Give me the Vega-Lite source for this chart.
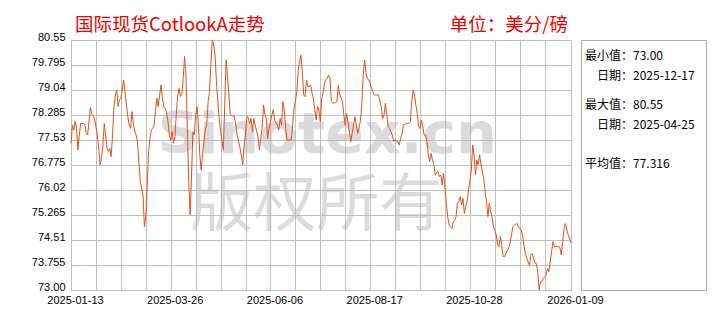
{
  "$schema": "https://vega.github.io/schema/vega-lite/v6.json",
  "background": "white",
  "padding": {"left": 30, "top": 15, "right": 5, "bottom": 5},
  "bounds": "flush",
  "spacing": 10,
  "config": {
    "view": {"stroke": "#c0c0c0"},
    "axis": {"labelFont": "Liberation Sans", "labelFontSize": 11, "labelColor": "#000000", "gridColor": "#c0c0c0", "domainColor": "#c0c0c0", "ticks": false, "title": null, "labelOverlap": false, "labelFlush": false}
  },
  "hconcat": [
    {
      "width": 500,
      "height": 250,
      "title": {"text": "国际现货CotlookA走势\u3000\u3000\u3000\u3000\u3000\u3000\u3000\u3000\u3000\u3000单位：美分/磅", "anchor": "start", "frame": "group", "color": "#ee0000", "font": "Noto Sans CJK SC", "fontSize": 18.5, "fontWeight": "normal", "dx": 4, "offset": 0, "dy": 3},
      "resolve": {"scale": {"x": "independent", "y": "independent"}},
      "layer": [
        {
          "data": {"values": [{"mark": "Sinotex.cn"}]},
          "mark": {"type": "text", "font": "DejaVu Sans", "fontWeight": "bold", "fontSize": 57, "color": "#b8b8b8", "opacity": 0.5, "align": "center", "baseline": "alphabetic"},
          "encoding": {
            "x": {"datum": {"year": 2025, "month": 7, "date": 17, "utc": true}, "type": "temporal", "axis": null, "scale": {"type": "utc", "domain": [{"year": 2025, "month": 1, "date": 13, "utc": true}, {"year": 2026, "month": 1, "date": 9, "utc": true}]}},
            "y": {"datum": 77.14, "type": "quantitative", "axis": null, "scale": {"domain": [73, 80.55], "nice": false, "zero": false}},
            "text": {"field": "mark", "type": "nominal"}
          }
        },
        {
          "data": {"values": [{"mark": "版权所有"}]},
          "mark": {"type": "text", "font": "Noto Sans CJK SC", "fontWeight": "normal", "fontSize": 63, "color": "#b8b8b8", "opacity": 0.5, "align": "center", "baseline": "alphabetic"},
          "encoding": {
            "x": {"datum": {"year": 2025, "month": 7, "date": 9, "utc": true}, "type": "temporal", "axis": null, "scale": {"type": "utc", "domain": [{"year": 2025, "month": 1, "date": 13, "utc": true}, {"year": 2026, "month": 1, "date": 9, "utc": true}]}},
            "y": {"datum": 74.95, "type": "quantitative", "axis": null, "scale": {"domain": [73, 80.55], "nice": false, "zero": false}},
            "text": {"field": "mark", "type": "nominal"}
          }
        },
        {
          "data": {"values": [
{"date":"2025-01-13","value":77.43},{"date":"2025-01-14","value":77.98},{"date":"2025-01-15","value":77.83},{"date":"2025-01-16","value":78.10},{"date":"2025-01-17","value":77.88},{"date":"2025-01-18","value":77.23},{"date":"2025-01-19","value":77.68},{"date":"2025-01-20","value":78.03},{"date":"2025-01-21","value":78.03},{"date":"2025-01-22","value":78.03},{"date":"2025-01-23","value":78.00},{"date":"2025-01-24","value":77.73},{"date":"2025-01-25","value":77.68},{"date":"2025-01-26","value":78.10},{"date":"2025-01-27","value":78.51},{"date":"2025-01-28","value":78.33},{"date":"2025-01-29","value":78.25},{"date":"2025-01-30","value":78.18},{"date":"2025-01-31","value":77.93},
{"date":"2025-02-01","value":77.68},{"date":"2025-02-02","value":77.28},{"date":"2025-02-03","value":76.78},{"date":"2025-02-04","value":76.98},{"date":"2025-02-05","value":77.35},{"date":"2025-02-06","value":78.03},{"date":"2025-02-07","value":77.68},{"date":"2025-02-08","value":77.28},{"date":"2025-02-09","value":77.18},{"date":"2025-02-10","value":77.28},{"date":"2025-02-11","value":77.03},{"date":"2025-02-12","value":77.70},{"date":"2025-02-13","value":78.50},{"date":"2025-02-14","value":78.89},{"date":"2025-02-15","value":79.04},{"date":"2025-02-16","value":78.54},{"date":"2025-02-17","value":78.74},{"date":"2025-02-18","value":78.79},{"date":"2025-02-19","value":79.04},{"date":"2025-02-20","value":79.34},{"date":"2025-02-21","value":78.99},{"date":"2025-02-22","value":78.59},{"date":"2025-02-23","value":78.24},{"date":"2025-02-24","value":77.98},{"date":"2025-02-25","value":77.88},{"date":"2025-02-26","value":78.39},{"date":"2025-02-27","value":78.03},{"date":"2025-02-28","value":77.80},
{"date":"2025-03-01","value":77.68},{"date":"2025-03-02","value":77.48},{"date":"2025-03-03","value":76.88},{"date":"2025-03-04","value":76.27},{"date":"2025-03-05","value":76.07},{"date":"2025-03-06","value":75.87},{"date":"2025-03-07","value":74.91},{"date":"2025-03-08","value":75.22},{"date":"2025-03-09","value":76.10},{"date":"2025-03-10","value":77.18},{"date":"2025-03-11","value":77.58},{"date":"2025-03-12","value":77.83},{"date":"2025-03-13","value":77.88},{"date":"2025-03-14","value":77.98},{"date":"2025-03-15","value":78.39},{"date":"2025-03-16","value":78.79},{"date":"2025-03-17","value":78.54},{"date":"2025-03-18","value":78.89},{"date":"2025-03-19","value":79.19},{"date":"2025-03-20","value":78.80},{"date":"2025-03-21","value":78.54},{"date":"2025-03-22","value":78.49},{"date":"2025-03-23","value":78.35},{"date":"2025-03-24","value":78.10},{"date":"2025-03-25","value":77.68},{"date":"2025-03-26","value":77.53},{"date":"2025-03-27","value":77.78},{"date":"2025-03-28","value":77.43},{"date":"2025-03-29","value":77.63},{"date":"2025-03-30","value":78.29},{"date":"2025-03-31","value":78.84},
{"date":"2025-04-01","value":79.09},{"date":"2025-04-02","value":78.84},{"date":"2025-04-03","value":78.90},{"date":"2025-04-04","value":79.39},{"date":"2025-04-05","value":80.05},{"date":"2025-04-06","value":79.50},{"date":"2025-04-07","value":77.88},{"date":"2025-04-08","value":76.27},{"date":"2025-04-09","value":75.27},{"date":"2025-04-10","value":76.40},{"date":"2025-04-11","value":77.78},{"date":"2025-04-12","value":77.68},{"date":"2025-04-13","value":78.29},{"date":"2025-04-14","value":78.54},{"date":"2025-04-15","value":78.00},{"date":"2025-04-16","value":77.08},{"date":"2025-04-17","value":76.62},{"date":"2025-04-18","value":77.10},{"date":"2025-04-19","value":77.50},{"date":"2025-04-20","value":77.85},{"date":"2025-04-21","value":77.98},{"date":"2025-04-22","value":78.69},{"date":"2025-04-23","value":78.99},{"date":"2025-04-24","value":79.79},{"date":"2025-04-25","value":80.55},{"date":"2025-04-26","value":80.40},{"date":"2025-04-27","value":80.10},{"date":"2025-04-28","value":79.29},{"date":"2025-04-29","value":78.69},{"date":"2025-04-30","value":78.18},
{"date":"2025-05-01","value":77.80},{"date":"2025-05-02","value":77.48},{"date":"2025-05-03","value":77.23},{"date":"2025-05-04","value":78.60},{"date":"2025-05-05","value":79.95},{"date":"2025-05-06","value":79.45},{"date":"2025-05-07","value":78.89},{"date":"2025-05-08","value":78.29},{"date":"2025-05-09","value":78.27},{"date":"2025-05-10","value":78.25},{"date":"2025-05-11","value":78.24},{"date":"2025-05-12","value":77.98},{"date":"2025-05-13","value":77.68},{"date":"2025-05-14","value":77.48},{"date":"2025-05-15","value":77.30},{"date":"2025-05-16","value":77.05},{"date":"2025-05-17","value":76.78},{"date":"2025-05-18","value":77.38},{"date":"2025-05-19","value":77.68},{"date":"2025-05-20","value":78.24},{"date":"2025-05-21","value":78.20},{"date":"2025-05-22","value":78.03},{"date":"2025-05-23","value":78.18},{"date":"2025-05-24","value":77.78},{"date":"2025-05-25","value":78.18},{"date":"2025-05-26","value":77.98},{"date":"2025-05-27","value":77.80},{"date":"2025-05-28","value":77.63},{"date":"2025-05-29","value":77.23},{"date":"2025-05-30","value":77.58},{"date":"2025-05-31","value":77.88},
{"date":"2025-06-01","value":78.59},{"date":"2025-06-02","value":78.30},{"date":"2025-06-03","value":78.18},{"date":"2025-06-04","value":77.58},{"date":"2025-06-05","value":77.88},{"date":"2025-06-06","value":78.05},{"date":"2025-06-07","value":78.29},{"date":"2025-06-08","value":78.44},{"date":"2025-06-09","value":78.13},{"date":"2025-06-10","value":78.05},{"date":"2025-06-11","value":77.98},{"date":"2025-06-12","value":77.83},{"date":"2025-06-13","value":78.18},{"date":"2025-06-14","value":77.98},{"date":"2025-06-15","value":78.69},{"date":"2025-06-16","value":78.44},{"date":"2025-06-17","value":77.88},{"date":"2025-06-18","value":77.53},{"date":"2025-06-19","value":77.53},{"date":"2025-06-20","value":77.53},{"date":"2025-06-21","value":77.53},{"date":"2025-06-22","value":77.98},{"date":"2025-06-23","value":78.49},{"date":"2025-06-24","value":78.69},{"date":"2025-06-25","value":78.99},{"date":"2025-06-26","value":79.59},{"date":"2025-06-27","value":79.89},{"date":"2025-06-28","value":80.10},{"date":"2025-06-29","value":79.59},{"date":"2025-06-30","value":78.89},
{"date":"2025-07-01","value":78.84},{"date":"2025-07-02","value":79.34},{"date":"2025-07-03","value":79.14},{"date":"2025-07-04","value":79.15},{"date":"2025-07-05","value":79.19},{"date":"2025-07-06","value":78.95},{"date":"2025-07-07","value":78.79},{"date":"2025-07-08","value":78.45},{"date":"2025-07-09","value":78.13},{"date":"2025-07-10","value":78.54},{"date":"2025-07-11","value":78.44},{"date":"2025-07-12","value":78.08},{"date":"2025-07-13","value":78.79},{"date":"2025-07-14","value":78.95},{"date":"2025-07-15","value":79.24},{"date":"2025-07-16","value":79.34},{"date":"2025-07-17","value":79.40},{"date":"2025-07-18","value":79.49},{"date":"2025-07-19","value":79.39},{"date":"2025-07-20","value":78.69},{"date":"2025-07-21","value":78.66},{"date":"2025-07-22","value":78.64},{"date":"2025-07-23","value":78.66},{"date":"2025-07-24","value":78.69},{"date":"2025-07-25","value":79.19},{"date":"2025-07-26","value":78.89},{"date":"2025-07-27","value":78.79},{"date":"2025-07-28","value":78.69},{"date":"2025-07-29","value":78.29},{"date":"2025-07-30","value":77.98},{"date":"2025-07-31","value":78.33},
{"date":"2025-08-01","value":78.08},{"date":"2025-08-02","value":77.78},{"date":"2025-08-03","value":77.48},{"date":"2025-08-04","value":77.73},{"date":"2025-08-05","value":77.98},{"date":"2025-08-06","value":78.23},{"date":"2025-08-07","value":77.98},{"date":"2025-08-08","value":77.73},{"date":"2025-08-09","value":77.88},{"date":"2025-08-10","value":78.13},{"date":"2025-08-11","value":78.64},{"date":"2025-08-12","value":79.49},{"date":"2025-08-13","value":79.95},{"date":"2025-08-14","value":79.54},{"date":"2025-08-15","value":79.39},{"date":"2025-08-16","value":79.34},{"date":"2025-08-17","value":79.24},{"date":"2025-08-18","value":79.10},{"date":"2025-08-19","value":78.99},{"date":"2025-08-20","value":78.89},{"date":"2025-08-21","value":78.89},{"date":"2025-08-22","value":78.89},{"date":"2025-08-23","value":78.89},{"date":"2025-08-24","value":78.70},{"date":"2025-08-25","value":78.54},{"date":"2025-08-26","value":78.18},{"date":"2025-08-27","value":78.29},{"date":"2025-08-28","value":78.64},{"date":"2025-08-29","value":78.29},{"date":"2025-08-30","value":77.93},{"date":"2025-08-31","value":77.88},
{"date":"2025-09-01","value":77.78},{"date":"2025-09-02","value":77.68},{"date":"2025-09-03","value":77.48},{"date":"2025-09-04","value":77.53},{"date":"2025-09-05","value":77.50},{"date":"2025-09-06","value":77.48},{"date":"2025-09-07","value":77.38},{"date":"2025-09-08","value":77.58},{"date":"2025-09-09","value":77.73},{"date":"2025-09-10","value":77.98},{"date":"2025-09-11","value":78.00},{"date":"2025-09-12","value":78.03},{"date":"2025-09-13","value":78.03},{"date":"2025-09-14","value":78.03},{"date":"2025-09-15","value":78.08},{"date":"2025-09-16","value":78.69},{"date":"2025-09-17","value":79.04},{"date":"2025-09-18","value":78.89},{"date":"2025-09-19","value":78.59},{"date":"2025-09-20","value":78.33},{"date":"2025-09-21","value":77.95},{"date":"2025-09-22","value":77.88},{"date":"2025-09-23","value":78.13},{"date":"2025-09-24","value":77.93},{"date":"2025-09-25","value":77.68},{"date":"2025-09-26","value":77.68},{"date":"2025-09-27","value":77.48},{"date":"2025-09-28","value":77.08},{"date":"2025-09-29","value":76.88},{"date":"2025-09-30","value":77.13},
{"date":"2025-10-01","value":76.93},{"date":"2025-10-02","value":76.78},{"date":"2025-10-03","value":76.47},{"date":"2025-10-04","value":76.55},{"date":"2025-10-05","value":76.57},{"date":"2025-10-06","value":76.42},{"date":"2025-10-07","value":76.47},{"date":"2025-10-08","value":76.17},{"date":"2025-10-09","value":76.52},{"date":"2025-10-10","value":76.07},{"date":"2025-10-11","value":75.60},{"date":"2025-10-12","value":75.20},{"date":"2025-10-13","value":74.96},{"date":"2025-10-14","value":74.90},{"date":"2025-10-15","value":74.86},{"date":"2025-10-16","value":75.06},{"date":"2025-10-17","value":75.10},{"date":"2025-10-18","value":75.22},{"date":"2025-10-19","value":75.62},{"date":"2025-10-20","value":75.67},{"date":"2025-10-21","value":75.82},{"date":"2025-10-22","value":75.57},{"date":"2025-10-23","value":75.77},{"date":"2025-10-24","value":75.31},{"date":"2025-10-25","value":75.52},{"date":"2025-10-26","value":75.67},{"date":"2025-10-27","value":76.02},{"date":"2025-10-28","value":76.30},{"date":"2025-10-29","value":76.60},{"date":"2025-10-30","value":77.38},{"date":"2025-10-31","value":77.08},
{"date":"2025-11-01","value":76.47},{"date":"2025-11-02","value":76.93},{"date":"2025-11-03","value":76.78},{"date":"2025-11-04","value":77.08},{"date":"2025-11-05","value":76.78},{"date":"2025-11-06","value":76.57},{"date":"2025-11-07","value":76.37},{"date":"2025-11-08","value":75.97},{"date":"2025-11-09","value":75.67},{"date":"2025-11-10","value":75.22},{"date":"2025-11-11","value":75.62},{"date":"2025-11-12","value":75.37},{"date":"2025-11-13","value":75.22},{"date":"2025-11-14","value":74.91},{"date":"2025-11-15","value":74.80},{"date":"2025-11-16","value":74.66},{"date":"2025-11-17","value":74.36},{"date":"2025-11-18","value":74.31},{"date":"2025-11-19","value":74.61},{"date":"2025-11-20","value":74.36},{"date":"2025-11-21","value":74.01},{"date":"2025-11-22","value":74.01},{"date":"2025-11-23","value":74.11},{"date":"2025-11-24","value":74.20},{"date":"2025-11-25","value":74.26},{"date":"2025-11-26","value":74.41},{"date":"2025-11-27","value":74.66},{"date":"2025-11-28","value":74.91},{"date":"2025-11-29","value":74.96},{"date":"2025-11-30","value":74.98},
{"date":"2025-12-01","value":75.01},{"date":"2025-12-02","value":74.91},{"date":"2025-12-03","value":74.85},{"date":"2025-12-04","value":74.81},{"date":"2025-12-05","value":74.66},{"date":"2025-12-06","value":74.36},{"date":"2025-12-07","value":74.11},{"date":"2025-12-08","value":73.96},{"date":"2025-12-09","value":73.85},{"date":"2025-12-10","value":73.75},{"date":"2025-12-11","value":74.06},{"date":"2025-12-12","value":74.10},{"date":"2025-12-13","value":73.96},{"date":"2025-12-14","value":73.80},{"date":"2025-12-15","value":73.80},{"date":"2025-12-16","value":73.55},{"date":"2025-12-17","value":73.00},{"date":"2025-12-18","value":73.25},{"date":"2025-12-19","value":73.25},{"date":"2025-12-20","value":73.35},{"date":"2025-12-21","value":73.40},{"date":"2025-12-22","value":73.45},{"date":"2025-12-23","value":73.65},{"date":"2025-12-24","value":73.55},{"date":"2025-12-25","value":73.86},{"date":"2025-12-26","value":74.16},{"date":"2025-12-27","value":74.46},{"date":"2025-12-28","value":74.31},{"date":"2025-12-29","value":74.31},{"date":"2025-12-30","value":74.31},{"date":"2025-12-31","value":74.31},
{"date":"2026-01-01","value":74.28},{"date":"2026-01-02","value":74.06},{"date":"2026-01-03","value":74.46},{"date":"2026-01-04","value":74.86},{"date":"2026-01-05","value":75.01},{"date":"2026-01-06","value":74.81},{"date":"2026-01-07","value":74.66},{"date":"2026-01-08","value":74.56},{"date":"2026-01-09","value":74.41}
          ]},
          "mark": {"type": "line", "color": "#e25019", "strokeWidth": 1, "interpolate": "linear"},
          "encoding": {
            "x": {"field": "date", "type": "temporal",
              "scale": {"type": "utc", "domain": [{"year": 2025, "month": 1, "date": 13, "utc": true}, {"year": 2026, "month": 1, "date": 9, "utc": true}]},
              "axis": {
                "orient": "bottom",
                "values": [
                  {"year": 2025, "month": 1, "date": 13, "utc": true},
                  {"year": 2025, "month": 1, "date": 31, "utc": true},
                  {"year": 2025, "month": 2, "date": 18, "utc": true},
                  {"year": 2025, "month": 3, "date": 8, "utc": true},
                  {"year": 2025, "month": 3, "date": 26, "utc": true},
                  {"year": 2025, "month": 4, "date": 13, "utc": true},
                  {"year": 2025, "month": 5, "date": 1, "utc": true},
                  {"year": 2025, "month": 5, "date": 19, "utc": true},
                  {"year": 2025, "month": 6, "date": 6, "utc": true},
                  {"year": 2025, "month": 6, "date": 24, "utc": true},
                  {"year": 2025, "month": 7, "date": 12, "utc": true},
                  {"year": 2025, "month": 7, "date": 30, "utc": true},
                  {"year": 2025, "month": 8, "date": 17, "utc": true},
                  {"year": 2025, "month": 9, "date": 4, "utc": true},
                  {"year": 2025, "month": 9, "date": 22, "utc": true},
                  {"year": 2025, "month": 10, "date": 10, "utc": true},
                  {"year": 2025, "month": 10, "date": 28, "utc": true},
                  {"year": 2025, "month": 11, "date": 15, "utc": true},
                  {"year": 2025, "month": 12, "date": 3, "utc": true},
                  {"year": 2025, "month": 12, "date": 21, "utc": true},
                  {"year": 2026, "month": 1, "date": 9, "utc": true}
                ],
                "grid": true,
                "labelOverlap": false,
                "labelPadding": 4,
                "labelOffset": 4,
                "labelBaseline": "top",
                "labelExpr": "indexof(['2025-01-13','2025-03-26','2025-06-06','2025-08-17','2025-10-28','2026-01-09'], utcFormat(datum.value, '%Y-%m-%d')) >= 0 ? utcFormat(datum.value, '%Y-%m-%d') : ''"
              }
            },
            "y": {"field": "value", "type": "quantitative",
              "scale": {"domain": [73, 80.55], "nice": false, "zero": false},
              "axis": {
                "orient": "left",
                "values": [73, 73.755, 74.51, 75.265, 76.02, 76.775, 77.53, 78.285, 79.04, 79.795, 80.55],
                "grid": true,
                "labelOverlap": false,
                "labelPadding": 6,
                "labelBaseline": "alphabetic",
                "labelExpr": "datum.value == 73 ? '73.00' : format(datum.value, '.3~f')"
              }
            }
          }
        }
      ]
    },
    {
      "width": 125,
      "height": 250,
      "view": {"stroke": "#aaaaaa"},
      "data": {"values": [{"panel": "统计"}]},
      "mark": {"type": "text", "text": ["最小值：73.00", "\u200b", "\u200b\u3000日期：2025-12-17", "\u200b", "\u200b", "最大值：80.55", "\u200b", "\u200b\u3000日期：2025-04-25", "\u200b", "\u200b", "\u200b", "平均值：77.316"], "align": "left", "baseline": "top", "dx": -58.5, "dy": -114, "font": "Noto Sans CJK SC", "fontSize": 12, "fontWeight": "normal", "color": "#000000", "lineHeight": 9.8}
    }
  ]
}
